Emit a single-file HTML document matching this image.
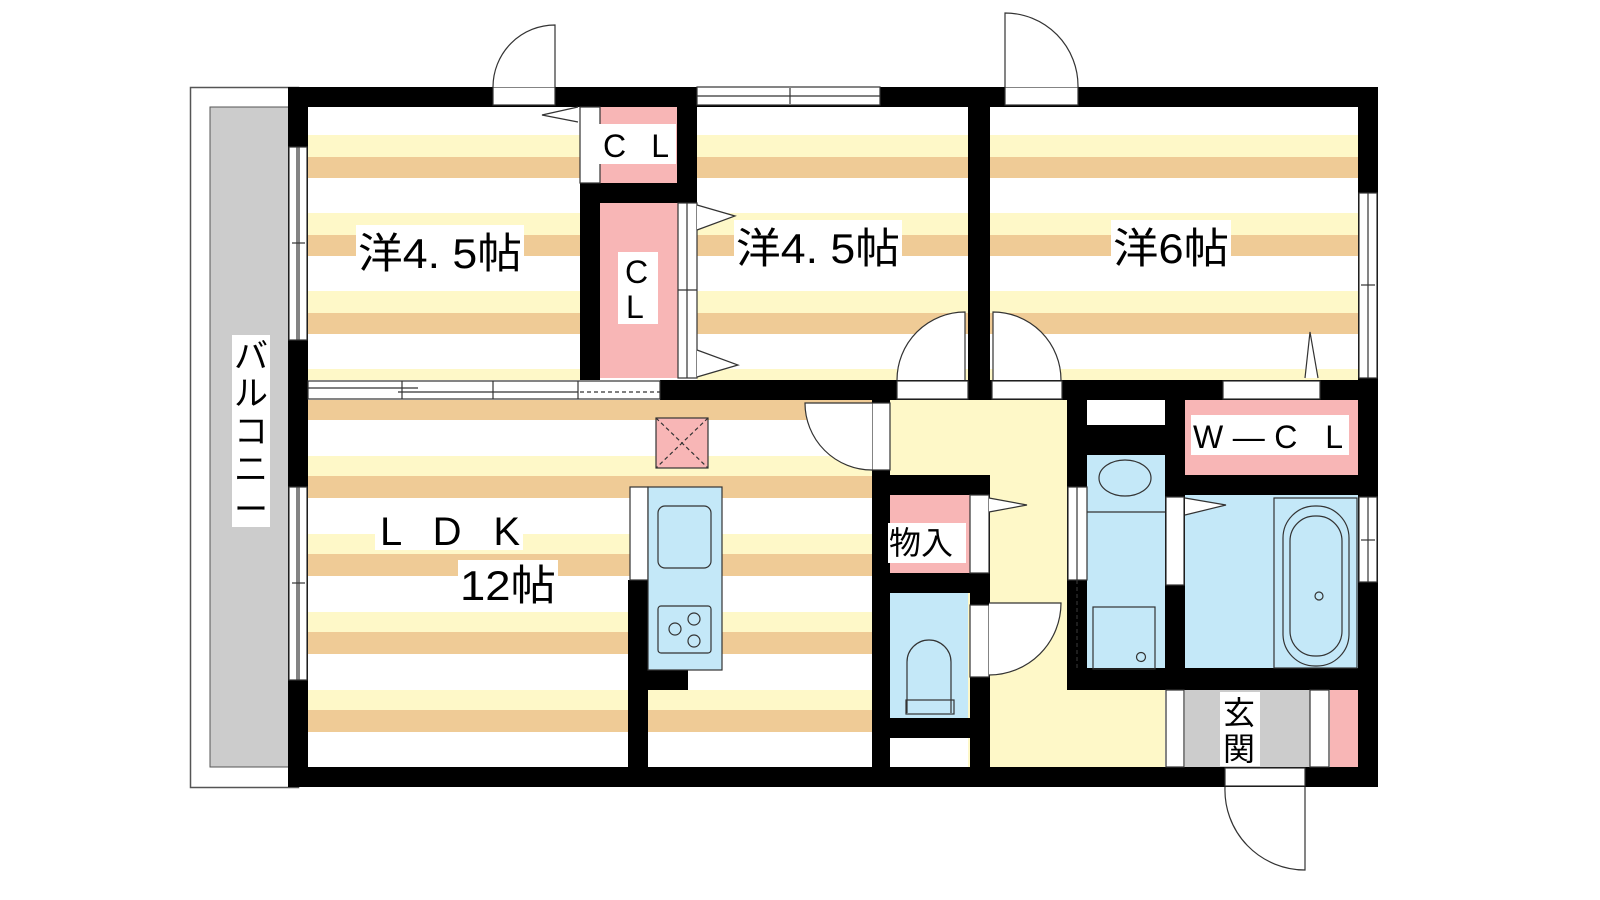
<!DOCTYPE html>
<html><head><meta charset="utf-8"><style>
html,body{margin:0;padding:0;background:#fff;width:1600px;height:900px;overflow:hidden}
svg{display:block}
text{font-family:"Liberation Sans","Noto Sans CJK JP",sans-serif;fill:#000}
</style></head><body>
<svg width="1600" height="900" viewBox="0 0 1600 900">
<defs>
<pattern id="pu" patternUnits="userSpaceOnUse" x="0" y="135" width="10" height="78">
<rect width="10" height="78" fill="#fff"/><rect y="0" width="10" height="22" fill="#fef8c8"/><rect y="22" width="10" height="21" fill="#efcb96"/></pattern>
<pattern id="pl" patternUnits="userSpaceOnUse" x="0" y="456" width="10" height="78">
<rect width="10" height="78" fill="#fff"/><rect y="0" width="10" height="20" fill="#fef8c8"/><rect y="20" width="10" height="22" fill="#efcb96"/></pattern>
</defs>
<rect x="190.5" y="87.5" width="108" height="700" fill="#fff" stroke="#555" stroke-width="1.5"/>
<rect x="210" y="107" width="80" height="660" fill="#cccccc" stroke="#555" stroke-width="1"/>
<rect x="308" y="107" width="272" height="273" fill="url(#pu)"/>
<rect x="697" y="107" width="271" height="273" fill="url(#pu)"/>
<rect x="990" y="107" width="368" height="273" fill="url(#pu)"/>
<rect x="308" y="400" width="564" height="367" fill="url(#pl)"/>
<rect x="308" y="400" width="564" height="17" fill="#efcb96"/>
<rect x="890" y="400" width="177" height="367" fill="#fef8c8"/>
<rect x="1067" y="690" width="98" height="77" fill="#fef8c8"/>
<rect x="600" y="107" width="77" height="76" fill="#f8b6b6"/>
<rect x="600" y="203" width="78" height="175" fill="#f8b6b6"/>
<rect x="890" y="495" width="80" height="78" fill="#f8b6b6"/>
<rect x="1185" y="400" width="173" height="75" fill="#f8b6b6"/>
<rect x="1330" y="690" width="28" height="77" fill="#f8b6b6"/>
<rect x="890" y="593" width="78" height="125" fill="#c4e8f8"/>
<rect x="1087" y="455" width="78" height="213" fill="#c4e8f8"/>
<rect x="1185" y="495" width="173" height="173" fill="#c4e8f8"/>
<rect x="1185" y="690" width="125" height="77" fill="#cccccc"/>
<rect x="890" y="738" width="78" height="29" fill="#fff"/>
<rect x="1087" y="407" width="78" height="18" fill="#fff"/>
<g fill="#000">
<rect x="288" y="87" width="1090" height="20"/>
<rect x="288" y="767" width="1090" height="20"/>
<rect x="288" y="87" width="20" height="700"/>
<rect x="1358" y="87" width="20" height="700"/>
<rect x="580" y="183" width="117" height="20"/>
<rect x="677" y="87" width="20" height="116"/>
<rect x="580" y="183" width="20" height="197"/>
<rect x="968" y="87" width="22" height="313"/>
<rect x="660" y="380" width="718" height="20"/>
<rect x="872" y="400" width="18" height="367"/>
<rect x="872" y="475" width="118" height="20"/>
<rect x="970" y="475" width="20" height="292"/>
<rect x="872" y="573" width="118" height="20"/>
<rect x="872" y="718" width="118" height="20"/>
<rect x="1067" y="380" width="20" height="310"/>
<rect x="1087" y="425" width="78" height="30"/>
<rect x="1165" y="400" width="20" height="290"/>
<rect x="1165" y="475" width="213" height="20"/>
<rect x="1067" y="668" width="311" height="22"/>
<rect x="628" y="580" width="20" height="187"/>
<rect x="648" y="670" width="40" height="20"/>
</g>
<g fill="#fff" stroke="#333" stroke-width="1.2">
<rect x="289" y="147" width="18" height="193"/>
<rect x="289" y="487" width="18" height="193"/>
<rect x="493" y="87" width="62" height="18"/>
<rect x="697" y="87" width="183" height="18"/>
<rect x="1005" y="87" width="73" height="18"/>
<rect x="1359" y="193" width="18" height="185"/>
<rect x="1359" y="497" width="18" height="85"/>
<rect x="308" y="381" width="352" height="18"/>
<rect x="580" y="107" width="20" height="76"/>
<rect x="678" y="203" width="19" height="175"/>
<rect x="897" y="381" width="71" height="18"/>
<rect x="992" y="381" width="70" height="18"/>
<rect x="1223" y="381" width="97" height="18"/>
<rect x="872" y="403" width="18" height="67"/>
<rect x="970" y="495" width="19" height="78"/>
<rect x="970" y="605" width="19" height="72"/>
<rect x="1068" y="487" width="19" height="93"/>
<rect x="1166" y="497" width="18" height="88"/>
<rect x="1166" y="690" width="18" height="77"/>
<rect x="1310" y="690" width="19" height="77"/>
<rect x="1225" y="768" width="80" height="18"/>
<rect x="630" y="487" width="18" height="93"/>
</g>
<g stroke="#333" stroke-width="1.2" fill="none">
<line x1="297" y1="147" x2="297" y2="340"/><line x1="299" y1="147" x2="299" y2="340"/><line x1="292" y1="243" x2="305" y2="243"/>
<line x1="297" y1="487" x2="297" y2="680"/><line x1="299" y1="487" x2="299" y2="680"/><line x1="292" y1="583" x2="305" y2="583"/>
<line x1="697" y1="96" x2="880" y2="96"/><line x1="790" y1="88" x2="790" y2="104"/>
<line x1="1368" y1="193" x2="1368" y2="378"/><line x1="1361" y1="285" x2="1375" y2="285"/>
<line x1="1368" y1="497" x2="1368" y2="582"/><line x1="1361" y1="540" x2="1375" y2="540"/>
<line x1="308" y1="388" x2="418" y2="388"/><line x1="398" y1="392" x2="578" y2="392"/>
<line x1="402" y1="381" x2="402" y2="399"/><line x1="493" y1="381" x2="493" y2="399"/><line x1="578" y1="381" x2="578" y2="399"/>
<line x1="580" y1="392" x2="660" y2="392" stroke-dasharray="4 3"/>
<line x1="687" y1="203" x2="687" y2="378"/><line x1="678" y1="290" x2="697" y2="290"/>
<line x1="1077" y1="487" x2="1077" y2="580"/>
<line x1="1077" y1="580" x2="1077" y2="668" stroke-dasharray="4 3"/>
<path d="M555 87 V25 A62 62 0 0 0 493 87" fill="#fff"/>
<path d="M1005 87 V13 A73 73 0 0 1 1078 87" fill="#fff"/>
<path d="M897 380 A68 68 0 0 1 965 312 V380" fill="#fff"/>
<path d="M993 380 V312 A68 68 0 0 1 1061 380" fill="#fff"/>
<path d="M872 403 H805 A67 67 0 0 0 872 470" fill="#fff"/>
<path d="M989 603 H1061 A72 72 0 0 1 989 675" fill="#fff"/>
<path d="M1305 787 V870 A80 80 0 0 1 1225 787" fill="#fff"/>
<path d="M578 107 L542 115 L578 122" fill="#fff"/>
<path d="M697 205 L735 216 L697 230" fill="#fff"/>
<path d="M697 350 L738 365 L697 377" fill="#fff"/>
<path d="M1305 378 L1310 332 L1318 378" fill="#fff"/>
<path d="M989 498 L1027 505 L989 512" fill="#fff"/>
<path d="M1185 498 L1226 505 L1185 515" fill="#fff"/>
<rect x="656" y="418" width="52" height="50" fill="#f8b6b6"/>
<path d="M656 418 L708 468 M708 418 L656 468" stroke-dasharray="4 3"/>
<rect x="648" y="487" width="74" height="183" fill="#c4e8f8"/>
<rect x="672" y="516" width="53" height="62" rx="7" transform="translate(-14 -10)"/>
<rect x="672" y="618" width="53" height="47" rx="3" transform="translate(-14 -12)"/>
<circle cx="689" cy="641" r="6" transform="translate(-14 -12)"/><circle cx="708" cy="631" r="6" transform="translate(-14 -12)"/><circle cx="708" cy="653" r="6" transform="translate(-14 -12)"/>
<ellipse cx="1125" cy="478" rx="26" ry="18"/>
<line x1="1087" y1="512" x2="1165" y2="512"/>
<rect x="1093" y="607" width="62" height="62"/>
<circle cx="1141" cy="657" r="4.5"/>
<path d="M925 713 V662 A22 22 0 0 1 969 662 V713" transform="translate(-18 0)"/>
<rect x="906" y="700" width="48" height="14"/>
<rect x="1274" y="498" width="83" height="170"/>
<rect x="1283" y="506" width="66" height="160" rx="32"/>
<rect x="1290" y="516" width="52" height="140" rx="25"/>
<circle cx="1319" cy="596" r="4"/>
</g>
<g font-size="42">
<rect x="356" y="225" width="168" height="48" fill="#fff"/>
<text x="358" y="268" textLength="164" lengthAdjust="spacingAndGlyphs">洋4. 5帖</text>
<rect x="734" y="220" width="168" height="48" fill="#fff"/>
<text x="736" y="263" textLength="164" lengthAdjust="spacingAndGlyphs">洋4. 5帖</text>
<rect x="1111" y="220" width="120" height="48" fill="#fff"/>
<text x="1113" y="263" textLength="116" lengthAdjust="spacingAndGlyphs">洋6帖</text>
</g>
<rect x="598" y="124" width="78" height="40" fill="#fff"/>
<text x="603" y="157" font-size="32" textLength="66" lengthAdjust="spacing">C L</text>
<rect x="618" y="252" width="40" height="72" fill="#fff"/>
<text x="625" y="283" font-size="32">C</text><text x="626" y="318" font-size="32">L</text>
<rect x="1191" y="415" width="158" height="40" fill="#fff"/>
<text x="1193" y="448" font-size="32" textLength="150" lengthAdjust="spacing">W—C L</text>
<rect x="888" y="523" width="78" height="40" fill="#fff"/>
<text x="889" y="554" font-size="32">物入</text>
<rect x="1220" y="692" width="40" height="74" fill="#fff"/>
<text x="1223" y="724" font-size="32">玄</text><text x="1223" y="760" font-size="32">関</text>
<rect x="375" y="508" width="148" height="42" fill="#fff"/>
<text x="380" y="545" font-size="40" textLength="140" lengthAdjust="spacing">L D K</text>
<rect x="458" y="560" width="100" height="46" fill="#fff"/>
<text x="460" y="600" font-size="42" textLength="96" lengthAdjust="spacingAndGlyphs">12帖</text>
<rect x="232" y="335" width="38" height="192" fill="#fff"/>
<g font-size="34"><text x="234" y="368">バ</text><text x="234" y="405">ル</text><text x="234" y="443">コ</text><text x="234" y="481">ニ</text><text x="234" y="521">ー</text></g>
</svg>
</body></html>
